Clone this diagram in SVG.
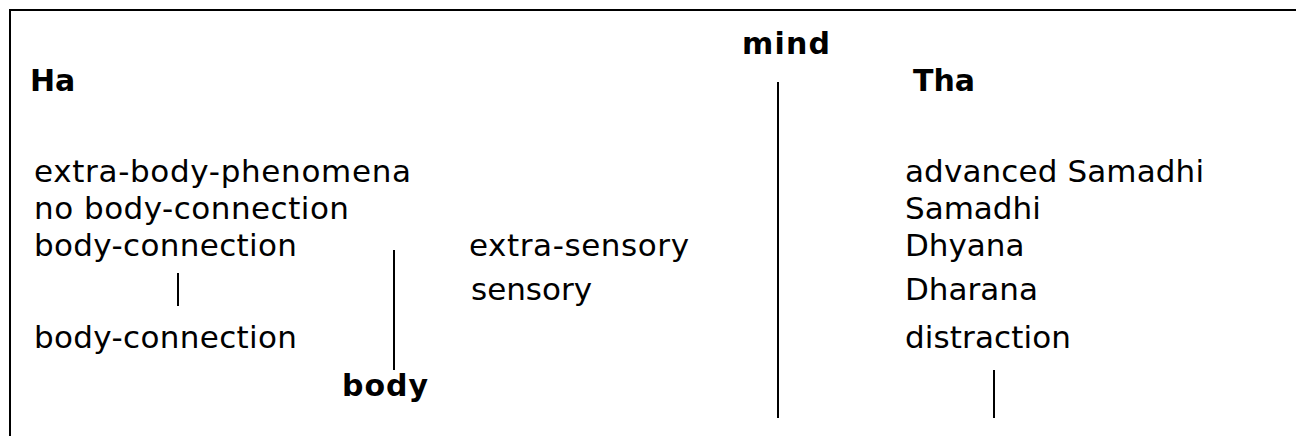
<svg xmlns="http://www.w3.org/2000/svg" width="1296" height="436" viewBox="0 0 1296 436">
<style>
.t{font-family:"DejaVu Sans",Verdana,sans-serif;font-size:31px;fill:#000}
.b{font-family:"DejaVu Sans",Verdana,sans-serif;font-size:30px;font-weight:bold;fill:#000}
.ln{stroke:#000;stroke-width:2;fill:none}
</style>
<rect width="1296" height="436" fill="#fff"/>
<g id="frame">
<path class="ln" d="M10 436 V10 H1296"/>
</g>
<g id="ha"><text class="b" x="30" y="91">Ha</text></g>
<g id="mind"><text class="b" x="742" y="54" textLength="88">mind</text></g>
<g id="tha"><text class="b" x="913" y="91">Tha</text></g>
<g id="body"><text class="b" x="342" y="396" textLength="86">body</text></g>
<g id="left-list">
<text class="t" x="34" y="182" textLength="377">extra-body-phenomena</text>
<text class="t" x="34" y="219" textLength="315">no body-connection</text>
<text class="t" x="34" y="256" textLength="263">body-connection</text>
<text class="t" x="34" y="348" textLength="263">body-connection</text>
</g>
<g id="middle-list">
<text class="t" x="469" y="256" textLength="220">extra-sensory</text>
<text class="t" x="471" y="300">sensory</text>
</g>
<g id="right-list">
<text class="t" x="905" y="182" textLength="299">advanced Samadhi</text>
<text class="t" x="905" y="219">Samadhi</text>
<text class="t" x="905" y="256">Dhyana</text>
<text class="t" x="905" y="300">Dharana</text>
<text class="t" x="905" y="348" textLength="166">distraction</text>
</g>
<g id="connectors">
<line class="ln" x1="178" y1="273" x2="178" y2="306"/>
<line class="ln" x1="394" y1="250" x2="394" y2="370"/>
<line class="ln" x1="778" y1="82" x2="778" y2="418"/>
<line class="ln" x1="994" y1="370" x2="994" y2="418"/>
</g>
</svg>
